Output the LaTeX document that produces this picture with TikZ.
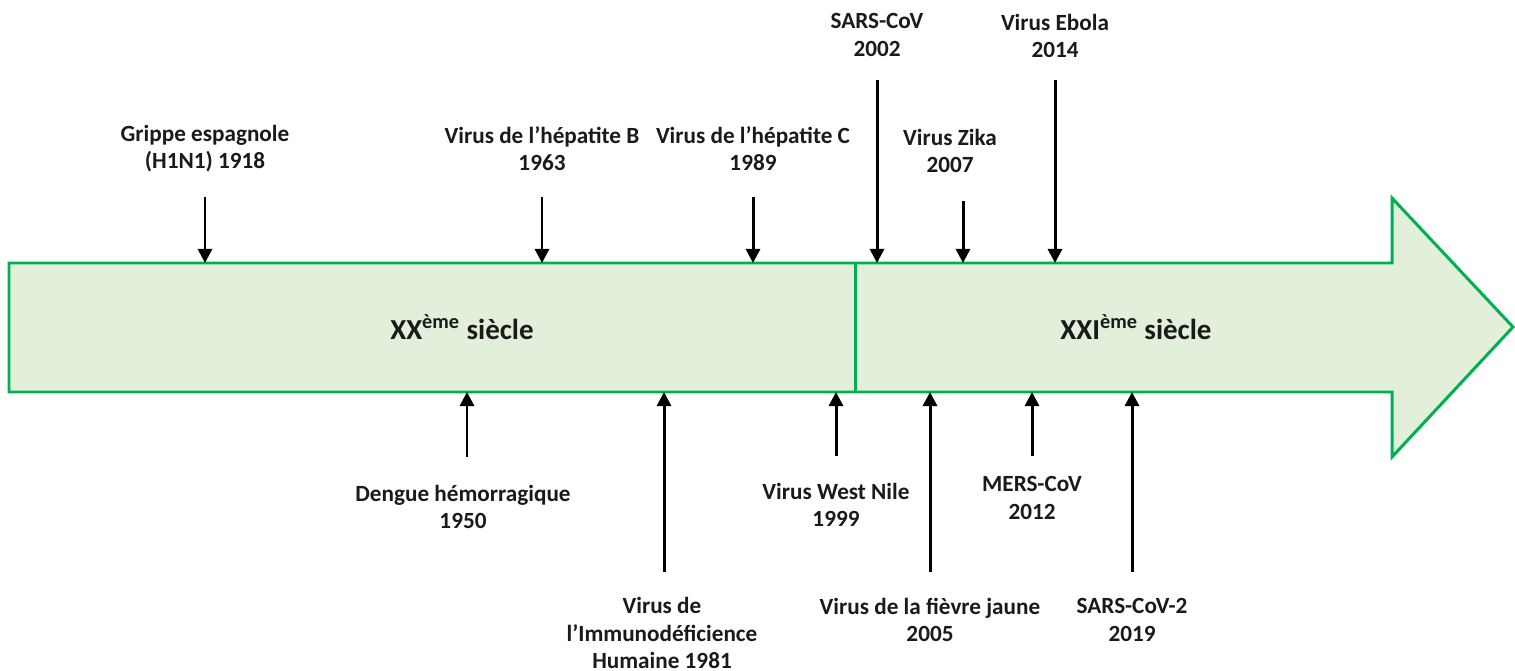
\documentclass[tikz,border=0pt]{standalone}
\usepackage{fontspec}
\setmainfont{Carlito}
\usetikzlibrary{arrows.meta}
\definecolor{bandgreen}{HTML}{00B050}
\definecolor{bandfill}{HTML}{E2EFDA}
\definecolor{txt}{HTML}{1A1A1A}
\begin{document}
\begin{tikzpicture}[x=0.02cm,y=-0.02cm,
  lab/.style={font=\bfseries\fontsize{13.2}{15.4}\selectfont, align=center, inner sep=0pt, text=txt},
  era/.style={font=\bfseries\fontsize{16.5}{19}\selectfont, inner sep=0pt, text=txt},
  ev/.style={line width=1.7pt, draw=black, -{Triangle[length=8pt,width=8pt]}},
  band/.style={draw=bandgreen, line width=1.7pt, fill=bandfill, line join=miter}]
\useasboundingbox (0,0) rectangle (1515,671);
% band arrow
\coordinate (b1) at (9,263);
\coordinate (b2) at (1392,263);
\coordinate (b3) at (1392,198);
\coordinate (b4) at (1513,327);
\coordinate (b5) at (1392,457);
\coordinate (b6) at (1392,392);
\coordinate (b7) at (9,392);
\draw[band] (b1) -- (b2) -- (b3) -- (b4) -- (b5) -- (b6) -- (b7) -- cycle;
\coordinate (d1) at (855,263);
\coordinate (d2) at (855,392);
\draw[draw=bandgreen, line width=1.7pt] (d1) -- (d2);
\node[era] (xx) at (462,327) {XX\textsuperscript{ème} siècle};
\node[era] (xxi) at (1136,327) {XXI\textsuperscript{ème} siècle};
% top events
\node[lab] (grippe) at (205,149) {Grippe espagnole\\(H1N1) 1918};
\coordinate (grippeT) at (205,197); \coordinate (grippeH) at (205,263);
\draw[ev] (grippeT) -- (grippeH);
\node[lab] (hepb) at (542,149) {Virus de l’hépatite B\\1963};
\coordinate (hepbT) at (542,197); \coordinate (hepbH) at (542,263);
\draw[ev] (hepbT) -- (hepbH);
\node[lab] (hepc) at (753,149) {Virus de l’hépatite C\\1989};
\coordinate (hepcT) at (753,197); \coordinate (hepcH) at (753,263);
\draw[ev] (hepcT) -- (hepcH);
\node[lab] (sars) at (877,35) {SARS-CoV\\2002};
\coordinate (sarsT) at (877,80); \coordinate (sarsH) at (877,263);
\draw[ev] (sarsT) -- (sarsH);
\node[lab] (zika) at (950,151) {Virus Zika\\2007};
\coordinate (zikaT) at (963,201); \coordinate (zikaH) at (963,263);
\draw[ev] (zikaT) -- (zikaH);
\node[lab] (ebola) at (1055,36) {Virus Ebola\\2014};
\coordinate (ebolaT) at (1055,80); \coordinate (ebolaH) at (1055,263);
\draw[ev] (ebolaT) -- (ebolaH);
% bottom events
\node[lab] (dengue) at (463,507) {Dengue hémorragique\\1950};
\coordinate (dengueT) at (467,457); \coordinate (dengueH) at (467,392);
\draw[ev] (dengueT) -- (dengueH);
\node[lab] (vih) at (662,633) {Virus de\\l’Immunodéficience\\Humaine 1981};
\coordinate (vihT) at (664,572); \coordinate (vihH) at (664,392);
\draw[ev] (vihT) -- (vihH);
\node[lab] (wn) at (836,505) {Virus West Nile\\1999};
\coordinate (wnT) at (836,456); \coordinate (wnH) at (836,392);
\draw[ev] (wnT) -- (wnH);
\node[lab] (fj) at (930,620) {Virus de la fièvre jaune\\2005};
\coordinate (fjT) at (930,572); \coordinate (fjH) at (930,392);
\draw[ev] (fjT) -- (fjH);
\node[lab] (mers) at (1032,498) {MERS-CoV\\2012};
\coordinate (mersT) at (1032,456); \coordinate (mersH) at (1032,392);
\draw[ev] (mersT) -- (mersH);
\node[lab] (sars2) at (1132,620) {SARS-CoV-2\\2019};
\coordinate (sars2T) at (1132,572); \coordinate (sars2H) at (1132,392);
\draw[ev] (sars2T) -- (sars2H);
\end{tikzpicture}
\end{document}
